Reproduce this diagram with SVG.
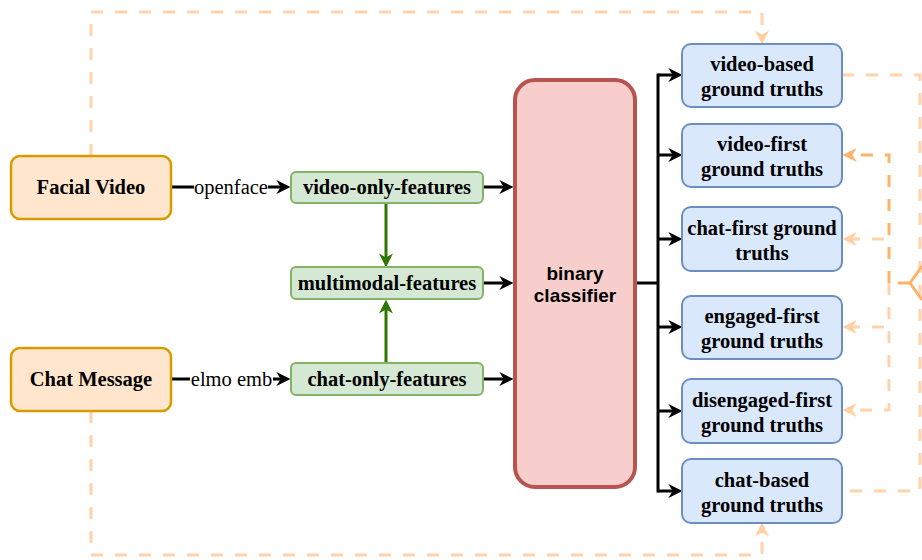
<svg xmlns="http://www.w3.org/2000/svg" width="922" height="560" viewBox="0 0 922 560">
<style>
.src{fill:#ffe6cc;stroke:#d79b00;stroke-width:2.5}
.feat{fill:#d5e8d4;stroke:#82b366;stroke-width:2}
.gt{fill:#dae8fc;stroke:#6c8ebf;stroke-width:2}
.clf{fill:#f8cecc;stroke:#b85450;stroke-width:4}
.t{font-family:"Liberation Serif","Times New Roman",serif;font-weight:bold;font-size:20.5px;fill:#000;text-anchor:middle}
.lbl{font-family:"Liberation Serif","Times New Roman",serif;font-size:20.5px;fill:#000;text-anchor:middle}
.ts{font-family:"Liberation Sans",Arial,sans-serif;font-weight:bold;font-size:19px;fill:#000;text-anchor:middle}
.blk{stroke:#000;stroke-width:3;fill:none}
.grn{stroke:#2d7600;stroke-width:3;fill:none}
.lo{stroke:#ffd4ad;stroke-width:3;fill:none;stroke-dasharray:12 12}
.do{stroke:#ffb366;stroke-width:3;fill:none;stroke-dasharray:12 12}
</style>
<defs>
<marker id="ab" viewBox="0 0 10 10" refX="4" refY="5" markerWidth="14" markerHeight="14" markerUnits="userSpaceOnUse" orient="auto"><path d="M0,0 L10,5 L0,10 L3,5 Z" fill="#000"/></marker>
<marker id="ag" viewBox="0 0 10 10" refX="4" refY="5" markerWidth="14" markerHeight="14" markerUnits="userSpaceOnUse" orient="auto"><path d="M0,0 L10,5 L0,10 L3,5 Z" fill="#2d7600"/></marker>
<marker id="alo" viewBox="0 0 10 10" refX="4" refY="5" markerWidth="14" markerHeight="14" markerUnits="userSpaceOnUse" orient="auto"><path d="M0,0 L10,5 L0,10 L3,5 Z" fill="#ffd0a3"/></marker>
<marker id="ado" viewBox="0 0 10 10" refX="4" refY="5" markerWidth="14" markerHeight="14" markerUnits="userSpaceOnUse" orient="auto"><path d="M0,0 L10,5 L0,10 L3,5 Z" fill="#ffb366"/></marker>
</defs>

<g id="connectors">
  <path class="lo" d="M91,156 V12 H762 V36" marker-end="url(#alo)"/>
  <path class="lo" d="M91,411 V555 H762 V531" marker-end="url(#alo)"/>
  <path class="lo" d="M842,75 H920 V491 H842"/>
  <path class="do" d="M889,283 V155 H851" marker-end="url(#ado)"/>
  <path class="lo" d="M889,283 V410 H851" marker-end="url(#alo)"/>
  <path class="lo" d="M884,239 H851" marker-end="url(#alo)"/>
  <path class="lo" d="M884,327 H851" marker-end="url(#alo)"/>
  <path d="M898,283 H910 M910,283 L922,266 M910,283 L922,300" stroke="#ffb366" stroke-width="3" fill="none"/>

  <path class="blk" d="M172,187 H282" marker-end="url(#ab)"/>
  <path class="blk" d="M172,379 H282" marker-end="url(#ab)"/>
  <path class="blk" d="M483,187 H505" marker-end="url(#ab)"/>
  <path class="blk" d="M483,283 H505" marker-end="url(#ab)"/>
  <path class="blk" d="M483,379 H505" marker-end="url(#ab)"/>
  <path class="grn" d="M386,203 V259" marker-end="url(#ag)"/>
  <path class="grn" d="M386,363 V308" marker-end="url(#ag)"/>
  <path class="blk" d="M636,283 H658"/>
  <path class="blk" d="M658,73.5 V492.5"/>
  <path class="blk" d="M658,75 H674" marker-end="url(#ab)"/>
  <path class="blk" d="M658,155 H674" marker-end="url(#ab)"/>
  <path class="blk" d="M658,239 H674" marker-end="url(#ab)"/>
  <path class="blk" d="M658,327 H674" marker-end="url(#ab)"/>
  <path class="blk" d="M658,411 H674" marker-end="url(#ab)"/>
  <path class="blk" d="M658,491 H674" marker-end="url(#ab)"/>

  <rect x="194" y="175" width="74" height="25" fill="#fff"/>
  <text class="lbl" x="231" y="194">openface</text>
  <rect x="190" y="366" width="83" height="26" fill="#fff"/>
  <text class="lbl" x="231.5" y="386">elmo emb</text>
</g>

<g id="facial-video">
  <rect class="src" x="11" y="156" width="160" height="63" rx="9"/>
  <text class="t" x="91" y="194">Facial Video</text>
</g>
<g id="chat-message">
  <rect class="src" x="11" y="348" width="160" height="63" rx="9"/>
  <text class="t" x="91" y="386">Chat Message</text>
</g>

<g id="video-only-features">
  <rect class="feat" x="291" y="172" width="192" height="31" rx="5"/>
  <text class="t" x="387" y="194">video-only-features</text>
</g>
<g id="multimodal-features">
  <rect class="feat" x="291" y="267" width="192" height="32" rx="5"/>
  <text class="t" x="387" y="290">multimodal-features</text>
</g>
<g id="chat-only-features">
  <rect class="feat" x="291" y="363" width="192" height="32" rx="5"/>
  <text class="t" x="387" y="386">chat-only-features</text>
</g>

<g id="binary-classifier">
  <rect class="clf" x="515" y="80" width="120" height="407" rx="20"/>
  <text class="ts" x="575" y="280">binary</text>
  <text class="ts" x="575" y="302">classifier</text>
</g>

<g id="video-based">
  <rect class="gt" x="682" y="44" width="160" height="63" rx="9"/>
  <text class="t" x="762" y="71">video-based</text>
  <text class="t" x="762" y="96">ground truths</text>
</g>
<g id="video-first">
  <rect class="gt" x="682" y="124" width="160" height="63" rx="9"/>
  <text class="t" x="762" y="151">video-first</text>
  <text class="t" x="762" y="176">ground truths</text>
</g>
<g id="chat-first">
  <rect class="gt" x="682" y="207" width="160" height="64" rx="9"/>
  <text class="t" x="762" y="235">chat-first ground</text>
  <text class="t" x="762" y="260">truths</text>
</g>
<g id="engaged-first">
  <rect class="gt" x="682" y="296" width="160" height="63" rx="9"/>
  <text class="t" x="762" y="323">engaged-first</text>
  <text class="t" x="762" y="348">ground truths</text>
</g>
<g id="disengaged-first">
  <rect class="gt" x="682" y="379" width="160" height="64" rx="9"/>
  <text class="t" x="762" y="407">disengaged-first</text>
  <text class="t" x="762" y="432">ground truths</text>
</g>
<g id="chat-based">
  <rect class="gt" x="682" y="459" width="160" height="64" rx="9"/>
  <text class="t" x="762" y="487">chat-based</text>
  <text class="t" x="762" y="512">ground truths</text>
</g>
</svg>
